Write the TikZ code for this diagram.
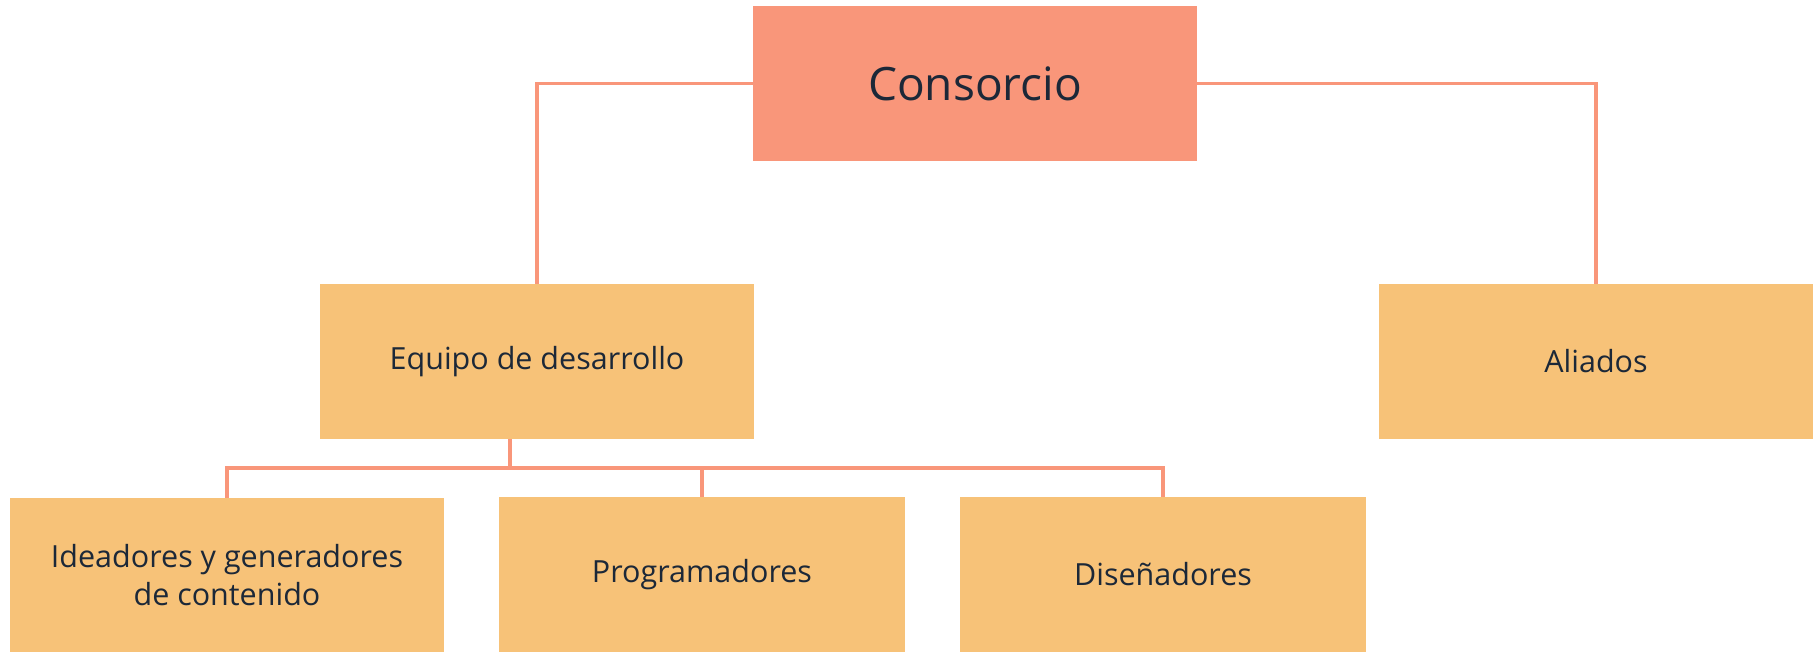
\documentclass[tikz,border=0pt]{standalone}
\usepackage{fontspec}
\setmainfont{Open Sans}
\usepackage{tikz}
\usetikzlibrary{positioning}

\definecolor{salmon}{HTML}{F9967A}
\definecolor{sand}{HTML}{F7C278}
\definecolor{ink}{HTML}{1C2838}

\tikzset{
  box/.style={fill=sand, text=ink, inner sep=0pt, align=center,
    minimum height=155pt, font=\fontsize{30.5}{38}\selectfont},
  link/.style={draw=salmon, line width=3.5pt}
}

\begin{document}
\begin{tikzpicture}[x=1pt,y=-1pt]
\useasboundingbox (0,0) rectangle (1820,652);

\draw (975,83.5) node (c) [box, fill=salmon, minimum width=444pt,
  font=\fontsize{46}{55}\selectfont] {Consorcio};

\draw (537,361.5)  node (eq) [box, minimum width=434pt] {Equipo de desarrollo};
\draw (1596,361.5) node (al) [box, minimum width=434pt] {Aliados};
\draw[link] (c.west) -| (eq.north);
\draw[link] (c.east) -| (al.north);

\draw (227,575.5)  node (id) [box, minimum width=434pt] {Ideadores y generadores\\de contenido};
\draw (702,574.5)  node (pr) [box, minimum width=406pt] {Programadores};
\draw (1163,574.5) node (di) [box, minimum width=406pt] {Diseñadores};

\coordinate (split) at (510,468);
\draw[link] (split |- eq.south) -- (split);
\draw[link] (split) -| (id.north);
\draw[link] (split) -| (pr.north);
\draw[link] (split) -| (di.north);
\end{tikzpicture}
\end{document}
